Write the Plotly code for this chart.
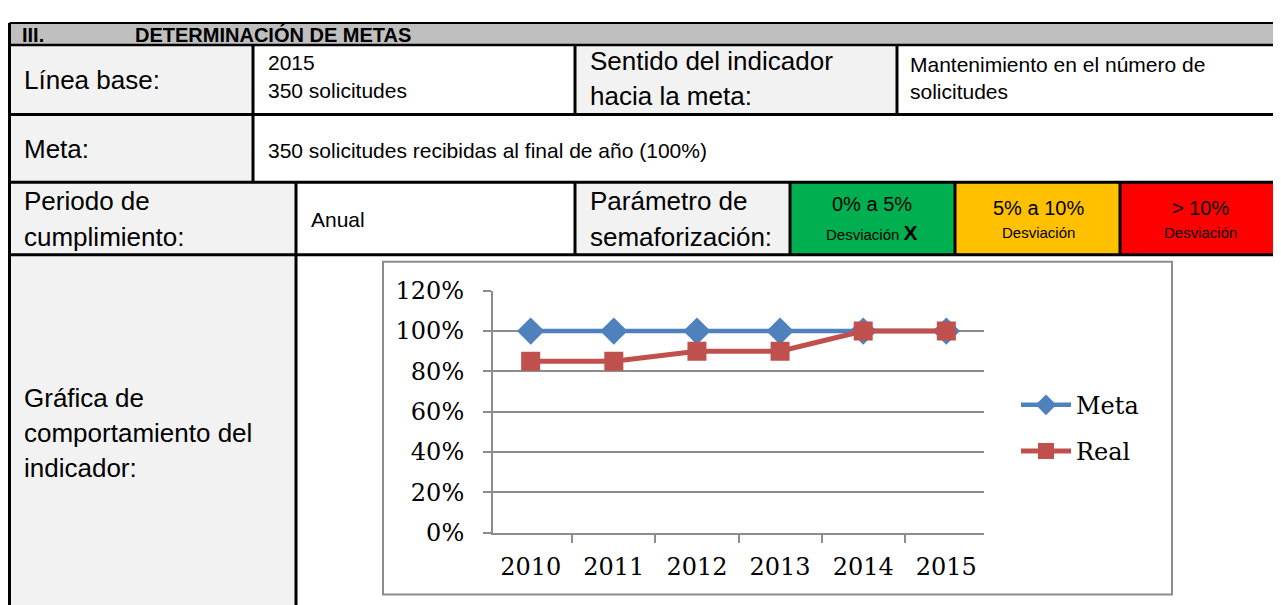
import plotly.graph_objects as go

# layout helpers: reference pixel positions -> figure paper coordinates
OX = 8            # horizontal page offset of the figure
Y0, YS = 21.0, 0.955
FW, FH = 1273, 612

# ---- data ----
years = ["2010", "2011", "2012", "2013", "2014", "2015"]
meta_values = [1.00, 1.00, 1.00, 1.00, 1.00, 1.00]
real_values = [0.85, 0.85, 0.90, 0.90, 1.00, 1.00]
y_ticks = [0, 0.2, 0.4, 0.6, 0.8, 1.0, 1.2]
y_tick_labels = ["0%", "20%", "40%", "60%", "80%", "100%", "120%"]

def px(x):
    return (x - OX) / FW

def py(y):
    f = (y - Y0) / YS
    f = max(f, 1.0)
    return 1 - f / FH

fig = go.Figure()
fig.add_trace(go.Scatter(
    x=years, y=meta_values, name="Meta", mode="lines+markers", legendgroup="a",
    line=dict(color="#4F81BD", width=4.5),
    marker=dict(symbol="diamond", size=21, color="#4F81BD"),
))
fig.add_trace(go.Scatter(
    x=years, y=real_values, name="Real", mode="lines+markers", legendgroup="b",
    line=dict(color="#C0504D", width=5),
    marker=dict(symbol="square", size=19, color="#C0504D"),
))

RIGHT = OX + FW + 2
BOTTOM = 640
shapes = []
def rect(x0, y0, x1, y1, fill):
    shapes.append(dict(type="rect", xref="paper", yref="paper", layer="below",
                       x0=px(x0), x1=px(x1), y0=py(y1), y1=py(y0),
                       fillcolor=fill, line=dict(width=0)))

def hline(x0, x1, y, w=3, color="black"):
    shapes.append(dict(type="line", xref="paper", yref="paper", layer="above",
                       x0=px(x0), x1=px(x1), y0=py(y), y1=py(y),
                       line=dict(color=color, width=w)))

def vline(x, y0, y1, w=3, color="black"):
    shapes.append(dict(type="line", xref="paper", yref="paper", layer="above",
                       x0=px(x), x1=px(x), y0=py(y0), y1=py(y1),
                       line=dict(color=color, width=w)))

LEFT = 9.5
TOP = 10
HDR = 44
GRAY = "#F2F2F2"
rect(LEFT, TOP, RIGHT, HDR, "#BFBFBF")
rect(LEFT, HDR, 253, 113.5, GRAY)
rect(575, HDR, 897, 113.5, GRAY)
rect(LEFT, 113.5, 253, 181.5, GRAY)
rect(LEFT, 181.5, 296, 254, GRAY)
rect(575, 181.5, 790, 254, GRAY)
rect(790, 181.5, 955, 254, "#00B050")
rect(955, 181.5, 1120, 254, "#FFC000")
rect(1120, 181.5, RIGHT, 254, "#FF0000")
rect(LEFT, 254, 296, BOTTOM, GRAY)

# chart frame
shapes.append(dict(type="rect", xref="paper", yref="paper", layer="below",
                   x0=px(383), x1=px(1172), y0=py(594), y1=py(261),
                   fillcolor="rgba(0,0,0,0)", line=dict(color="#8C8C8C", width=2)))

hline(LEFT, RIGHT, TOP, w=2)
hline(LEFT, RIGHT, HDR, w=2.5)
for yy in [113.5, 181.5, 254]:
    hline(LEFT, RIGHT, yy)
vline(LEFT, TOP, BOTTOM)
vline(253, HDR, 181.5)
vline(575, HDR, 113.5)
vline(897, HDR, 113.5)
vline(296, 181.5, BOTTOM)
vline(575, 181.5, 254)
vline(790, 181.5, 254)
vline(955, 181.5, 254)
vline(1120, 181.5, 254)

annotations = []
SANS = "Liberation Sans, Arial, sans-serif"
def text(x, y, s, size, anchor="left", bold=False, color="black"):
    if bold:
        s = "<b>" + s + "</b>"
    annotations.append(dict(xref="paper", yref="paper", x=px(x), y=py(y), text=s,
                            showarrow=False, xanchor=anchor, yanchor="middle",
                            font=dict(family=SANS, size=size, color=color)))

LBL = 26
VAL = 21
text(20, 34, "III.", 20, bold=True)
text(133, 34, "DETERMINACIÓN DE METAS", 20, bold=True)
text(22, 79, "Línea base:", LBL)
text(266, 62, "2015", VAL)
text(266, 90, "350 solicitudes", VAL)
text(588, 60, "Sentido del indicador", LBL)
text(588, 95, "hacia la meta:", LBL)
text(908, 64, "Mantenimiento en el número de", VAL)
text(908, 91, "solicitudes", VAL)
text(22, 148, "Meta:", LBL)
text(266, 150, "350 solicitudes recibidas al final de año (100%)", VAL)
text(22, 200, "Periodo de", LBL)
text(22, 236, "cumplimiento:", LBL)
text(309, 219, "Anual", VAL)
text(588, 200, "Parámetro de", LBL)
text(588, 236, "semaforización:", LBL)
text(872, 203, "0% a 5%", 20, anchor="center")
text(872, 232, "Desviación <b><span style='font-size:21px'>X</span></b>", 15, anchor="center")
text(1038, 207, "5% a 10%", 20, anchor="center")
text(1038, 232, "Desviación", 15, anchor="center")
text(1200, 207, "> 10%", 20, anchor="center")
text(1200, 232, "Desviación", 15, anchor="center")
text(22, 397, "Gráfica de", LBL)
text(22, 432, "comportamiento del", LBL)
text(22, 467, "indicador:", LBL)

SERIF = "DejaVu Serif, serif"
AXC = "#8C8C8C"
fig.update_layout(
    width=FW, height=FH,
    margin=dict(l=0, r=0, t=0, b=0),
    paper_bgcolor="white", plot_bgcolor="white",
    shapes=shapes, annotations=annotations,
    showlegend=True,
    legend=dict(x=px(1016), y=py(382), xanchor="left", yanchor="top",
                font=dict(family=SERIF, size=24, color="black"),
                bgcolor="rgba(0,0,0,0)", itemwidth=50, tracegroupgap=12),
    xaxis=dict(domain=[px(493), px(984)], type="category",
               tickson="boundaries", ticks="outside", ticklen=8, tickcolor=AXC,
               tickwidth=2, showline=True, linecolor=AXC, linewidth=2,
               showgrid=False, ticklabelstandoff=12,
               tickfont=dict(family=SERIF, size=24, color="black")),
    yaxis=dict(domain=[py(532), py(290)], range=[0, 1.2],
               tickvals=y_ticks, ticktext=y_tick_labels,
               ticks="outside", ticklen=8, tickcolor=AXC, tickwidth=2,
               showline=True, linecolor=AXC, linewidth=2,
               showgrid=True, gridcolor=AXC, gridwidth=2, zeroline=False,
               ticklabelstandoff=14,
               tickfont=dict(family=SERIF, size=24, color="black")),
)

fig.write_html("out.html")
